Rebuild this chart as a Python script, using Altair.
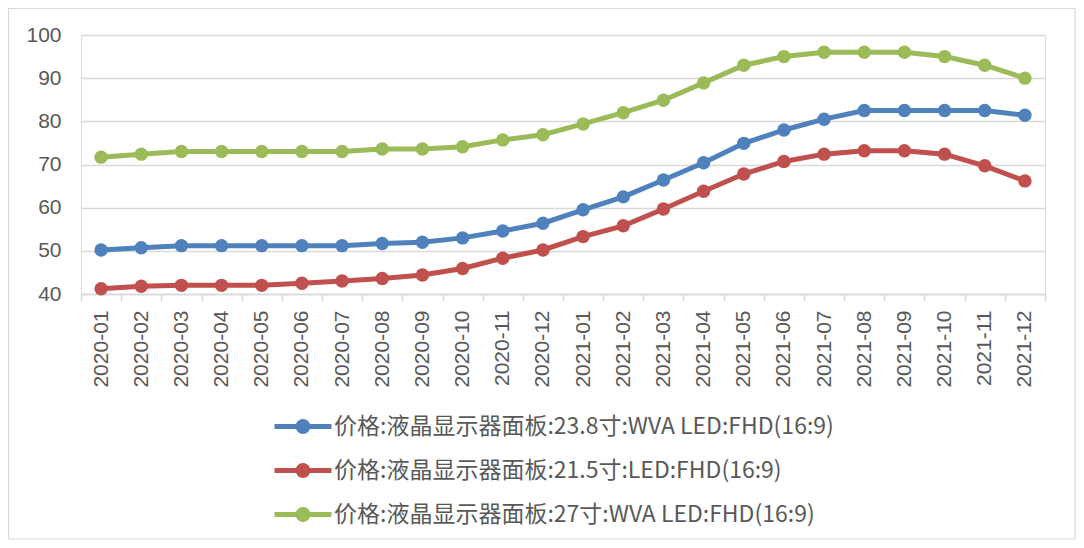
import altair as alt
import pandas as pd

months = ["2020-01", "2020-02", "2020-03", "2020-04", "2020-05", "2020-06",
          "2020-07", "2020-08", "2020-09", "2020-10", "2020-11", "2020-12",
          "2021-01", "2021-02", "2021-03", "2021-04", "2021-05", "2021-06",
          "2021-07", "2021-08", "2021-09", "2021-10", "2021-11", "2021-12"]

series_names = ["价格:液晶显示器面板:23.8寸:WVA LED:FHD(16:9)",
                "价格:液晶显示器面板:21.5寸:LED:FHD(16:9)",
                "价格:液晶显示器面板:27寸:WVA LED:FHD(16:9)"]

s_238 = [50.2, 50.7, 51.2, 51.2, 51.2, 51.2, 51.2, 51.7, 52.0, 53.0, 54.6, 56.4,
         59.5, 62.5, 66.4, 70.4, 74.9, 78.0, 80.5, 82.5, 82.5, 82.5, 82.5, 81.4]
s_215 = [41.2, 41.8, 42.0, 42.0, 42.0, 42.5, 43.0, 43.6, 44.4, 45.9, 48.3, 50.2,
         53.3, 55.8, 59.7, 63.8, 67.8, 70.7, 72.4, 73.2, 73.2, 72.4, 69.7, 66.2]
s_27 = [71.7, 72.4, 73.0, 73.0, 73.0, 73.0, 73.0, 73.6, 73.6, 74.1, 75.7, 76.9,
        79.4, 82.0, 84.9, 88.9, 93.0, 95.0, 96.0, 96.0, 96.0, 95.0, 93.0, 90.0]

colors = ["#4f81bd", "#c0504d", "#9bbb59"]
y_ticks = [40, 50, 60, 70, 80, 90, 100]

rows = []
for name, vals in zip(series_names, [s_238, s_215, s_27]):
    for m, v in zip(months, vals):
        rows.append({"month": m, "value": v, "series": name})
df = pd.DataFrame(rows)

# legend symbol: a line with a (stroked, visually filled) dot in the middle
legend_symbol = ("M-1,0H4.7"
                 "M1.35,0A0.5,0.5,0,1,1,2.35,0A0.5,0.5,0,1,1,1.35,0"
                 "M1.725,0A0.125,0.125,0,1,1,1.975,0A0.125,0.125,0,1,1,1.725,0")

lines = alt.Chart(df).mark_line(
    strokeWidth=5,
    point=alt.OverlayMarkDef(filled=True, size=180, opacity=1),
).encode(
    x=alt.X("month:O", sort=months,
            scale=alt.Scale(type="band", paddingInner=0, paddingOuter=0),
            axis=alt.Axis(title=None, labelAngle=-90, labelFont="Liberation Sans",
                          labelFontSize=21, labelColor="#595959", labelPadding=9,
                          tickBand="extent", tickSize=7, tickColor="#d9d9d9",
                          tickWidth=1.5, domainColor="#d9d9d9", domainWidth=1.5,
                          grid=False)),
    y=alt.Y("value:Q",
            scale=alt.Scale(domain=[40, 100], nice=False, zero=False),
            axis=alt.Axis(title=None, values=y_ticks, labelFont="Liberation Sans",
                          labelFontSize=21, labelColor="#595959", labelPadding=20,
                          ticks=False, domain=False, gridColor="#d9d9d9",
                          gridWidth=1.3)),
    color=alt.Color("series:N", sort=series_names,
                    scale=alt.Scale(domain=series_names, range=colors),
                    legend=alt.Legend(title=None, orient="none", legendX=191,
                                      legendY=379, direction="vertical",
                                      symbolType=legend_symbol, symbolSize=400,
                                      symbolStrokeWidth=5, symbolOpacity=1,
                                      labelFont="Noto Sans CJK SC", labelFontSize=23,
                                      labelColor="#595959", labelLimit=0,
                                      labelOffset=37, rowPadding=13, padding=0)),
)

border = alt.Chart(pd.DataFrame({"a": [0]})).mark_rect(
    fillOpacity=0, stroke="#d9d9d9", strokeWidth=1.2
).encode(
    x=alt.value(-72.5), x2=alt.value(994), y=alt.value(-26.5), y2=alt.value(504)
)

chart = alt.layer(border, lines).properties(
    width=964, height=259,
    autosize=alt.AutoSizeParams(type="none"),
    padding={"left": 73, "top": 27, "right": 31, "bottom": 246},
).configure_view(stroke=None).configure(background="white")

chart.save("out.html", embed_options={"renderer": "svg", "actions": False})
